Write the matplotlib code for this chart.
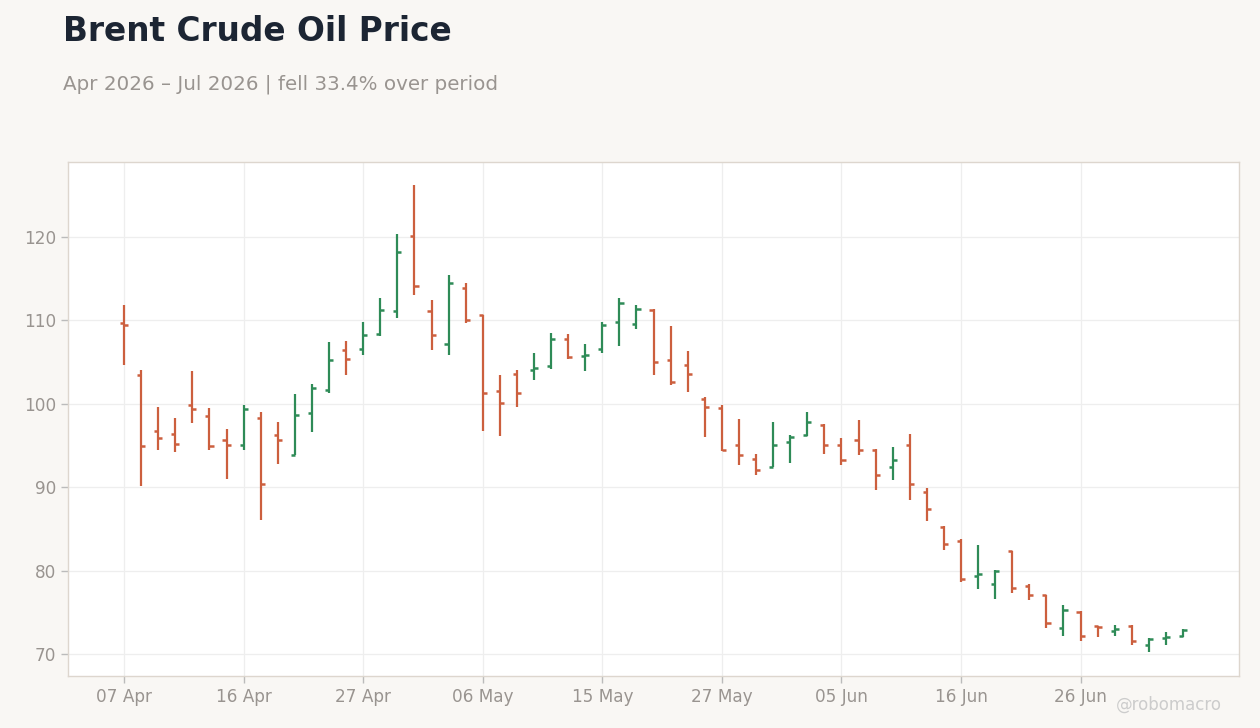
import matplotlib
matplotlib.use("Agg")
import matplotlib.pyplot as plt
import numpy as np

plt.rcParams["font.family"] = ["DejaVu Sans"]

dates = [
    "07 Apr", "08 Apr", "09 Apr", "10 Apr", "13 Apr", "14 Apr", "15 Apr", "16 Apr", "17 Apr",
    "20 Apr", "21 Apr", "22 Apr", "23 Apr", "24 Apr", "27 Apr", "28 Apr", "29 Apr", "30 Apr",
    "01 May", "04 May", "05 May", "06 May", "07 May", "08 May", "11 May", "12 May", "13 May",
    "14 May", "15 May", "18 May", "19 May", "20 May", "21 May", "22 May", "26 May", "27 May",
    "28 May", "29 May", "01 Jun", "02 Jun", "03 Jun", "04 Jun", "05 Jun", "08 Jun", "09 Jun",
    "10 Jun", "11 Jun", "12 Jun", "15 Jun", "16 Jun", "17 Jun", "18 Jun", "22 Jun", "23 Jun",
    "24 Jun", "25 Jun", "26 Jun", "29 Jun", "30 Jun", "01 Jul", "02 Jul", "06 Jul", "07 Jul",
]

opens = [
    109.7, 103.5, 96.7, 96.4, 99.8, 98.5, 95.6, 95.0, 98.3, 96.3,
    93.9, 98.9, 101.7, 106.4, 106.6, 108.4, 111.1, 120.1, 111.1, 107.2,
    113.9, 110.6, 101.5, 103.6, 104.1, 104.5, 107.8, 105.7, 106.6, 109.8,
    109.6, 111.3, 105.3, 104.6, 100.6, 99.5, 95.1, 93.4, 92.4, 95.4,
    96.2, 97.5, 95.1, 95.6, 94.4, 92.4, 95.0, 89.4, 85.2, 83.6,
    79.3, 78.4, 82.3, 78.2, 77.1, 73.1, 75.0, 73.3, 72.8, 73.4,
    71.1, 71.9, 72.2,
]
highs = [
    111.8, 104.0, 99.6, 98.3, 103.9, 99.5, 97.0, 99.9, 99.0, 97.8,
    101.2, 102.4, 107.4, 107.5, 109.8, 112.7, 120.4, 126.2, 112.5, 115.4,
    114.5, 110.6, 103.4, 104.0, 106.1, 108.5, 108.4, 107.2, 109.8, 112.7,
    111.8, 111.4, 109.3, 106.3, 100.8, 99.8, 98.2, 94.0, 97.8, 96.2,
    99.0, 97.6, 95.9, 98.1, 94.6, 94.8, 96.4, 89.9, 85.3, 83.8,
    83.1, 80.1, 82.4, 78.4, 77.1, 75.9, 75.1, 73.4, 73.5, 73.5,
    71.9, 72.6, 73.0,
]
lows = [
    104.7, 90.1, 94.4, 94.2, 97.7, 94.5, 91.0, 94.5, 86.1, 92.8,
    93.8, 96.6, 101.3, 103.5, 105.9, 108.1, 110.3, 113.1, 106.4, 105.8,
    109.7, 96.7, 96.1, 99.6, 102.9, 104.2, 105.4, 103.9, 106.1, 106.9,
    109.0, 103.4, 102.3, 101.4, 96.0, 94.3, 92.6, 91.5, 92.4, 92.9,
    96.1, 94.0, 92.7, 93.8, 89.7, 90.9, 88.5, 85.9, 82.5, 78.6,
    77.8, 76.6, 77.3, 76.5, 73.1, 72.2, 71.5, 72.0, 72.2, 71.1,
    70.2, 71.1, 72.0,
]
closes = [
    109.4, 94.9, 95.9, 95.2, 99.4, 94.9, 95.0, 99.4, 90.4, 95.6,
    98.6, 101.9, 105.2, 105.4, 108.3, 111.3, 118.2, 114.1, 108.3, 114.5,
    110.0, 101.3, 100.1, 101.3, 104.3, 107.8, 105.6, 105.8, 109.4, 112.1,
    111.4, 105.0, 102.6, 103.6, 99.6, 94.4, 93.8, 92.1, 95.1, 96.0,
    97.8, 95.1, 93.2, 94.4, 91.5, 93.2, 90.4, 87.4, 83.2, 79.0,
    79.6, 79.9, 77.9, 77.1, 73.7, 75.3, 72.1, 73.2, 73.0, 71.6,
    71.8, 72.0, 72.85,
]

tick_idx = [0, 7, 14, 21, 28, 35, 42, 49, 56]
y_ticks = [70, 80, 90, 100, 110, 120]

UP = "#2e8b57"
DOWN = "#cc5f3e"
BG = "#f9f7f4"

fig = plt.figure(figsize=(12.6, 7.28), dpi=100, facecolor=BG)
ax = fig.add_axes([0.054, 0.0714, 0.9294, 0.7061])
ax.set_facecolor("white")

x = np.arange(len(dates))
o = np.array(opens); h = np.array(highs); l = np.array(lows); c = np.array(closes)
colors = [UP if cc >= oo else DOWN for oo, cc in zip(o, c)]

ax.vlines(x, l, h, colors=colors, linewidth=1.6, zorder=3)
ax.hlines(o, x - 0.24, x, colors=colors, linewidth=1.8, zorder=3)
ax.hlines(c, x, x + 0.24, colors=colors, linewidth=1.8, zorder=3)

ax.set_xlim(-3.28, len(dates) - 1 + 3.28)
ax.set_ylim(67.35, 129.0)
ax.set_xticks(tick_idx)
ax.set_xticklabels([dates[i] for i in tick_idx])
ax.set_yticks(y_ticks)

ax.grid(True, color="#eeeeee", linewidth=0.9, zorder=0)
ax.set_axisbelow(True)
for s in ax.spines.values():
    s.set_color("#ddd6ce")
    s.set_linewidth(1.0)
ax.tick_params(axis="both", colors="#bbbbbb", labelcolor="#999490", labelsize=12.2, length=5, width=1)

fig.text(0.05, 0.979, "Brent Crude Oil Price", fontsize=23.6, fontweight="bold", color="#1c2533", va="top")
fig.text(0.05, 0.897, "Apr 2026 – Jul 2026 | fell 33.4% over period", fontsize=14.3, color="#999490", va="top")
fig.text(0.97, 0.019, "@robomacro", fontsize=12, color="#cccccc", ha="right", va="bottom")

fig.savefig("out.png", dpi=100, facecolor=BG)
